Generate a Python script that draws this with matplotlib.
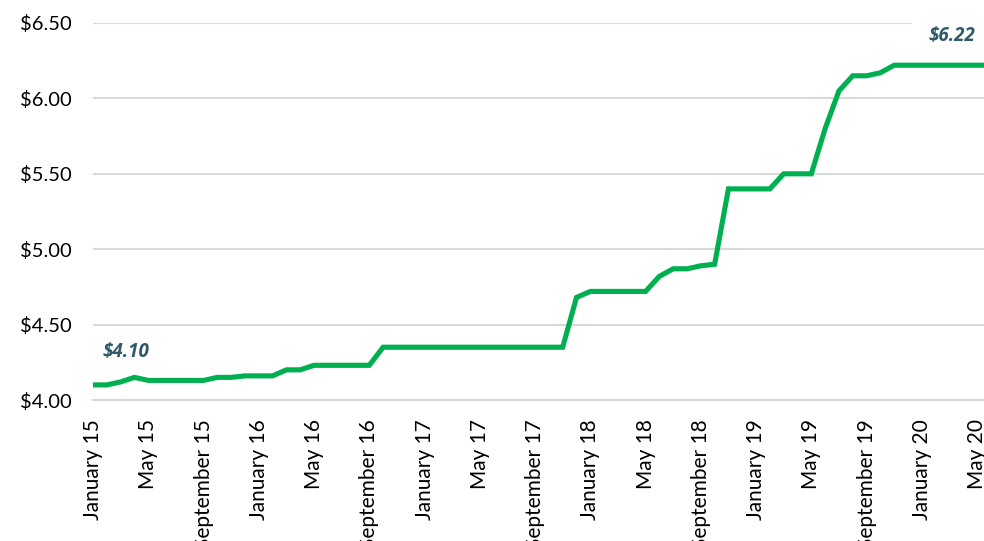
import matplotlib
matplotlib.use("Agg")
import matplotlib.pyplot as plt

plt.rcParams['font.family'] = ['Lato', 'DejaVu Sans']

month_names = ['January', 'February', 'March', 'April', 'May', 'June', 'July',
               'August', 'September', 'October', 'November', 'December']
months = [f"{month_names[i % 12]} {15 + i // 12}" for i in range(66)]

# monthly price, January 15 .. June 20 (last month runs off the right edge)
prices = [4.10, 4.10, 4.12, 4.15, 4.13, 4.13, 4.13, 4.13, 4.13, 4.15,
          4.15, 4.16, 4.16, 4.16, 4.20, 4.20, 4.23, 4.23, 4.23, 4.23,
          4.23] + [4.35] * 14 + [4.68] + [4.72] * 5 + \
         [4.82, 4.87, 4.87, 4.89, 4.90] + [5.40] * 4 + [5.50] * 3 + \
         [5.80, 6.05, 6.15, 6.15, 6.17] + [6.22] * 8

yticks = [4.0, 4.5, 5.0, 5.5, 6.0, 6.5]

fig = plt.figure(figsize=(9.84, 5.41), dpi=100)
ax = fig.add_axes([93 / 984, 141 / 541, 1 - 93 / 984, 377 / 541])

x = list(range(len(prices)))
ax.plot(x, prices, color='#00B050', linewidth=3.7, solid_joinstyle='miter', zorder=3)

ax.set_xlim(0, 64.5)
ax.set_ylim(4.0, 6.5)
ax.set_yticks(yticks)
ax.set_yticklabels([f"${v:.2f}" for v in yticks], fontsize=14.5)
ax.set_xticks(x[:65:4])
ax.set_xticklabels(months[:65:4], rotation=90, fontsize=15)
ax.tick_params(axis='both', length=0)
ax.tick_params(axis='y', pad=15)
ax.tick_params(axis='x', pad=14)

ax.grid(axis='y', color='#D9D9D9', linewidth=1.5)
ax.set_axisbelow(True)
for s in ['top', 'right', 'left']:
    ax.spines[s].set_visible(False)
ax.spines['bottom'].set_color('#D9D9D9')
ax.spines['bottom'].set_linewidth(1.5)

lab_font = ['Open Sans', 'DejaVu Sans']
ax.annotate(f"${prices[0]:.2f}", (0, prices[0]), xytext=(7, 24), textcoords='offset points',
            fontsize=13.5, fontweight='bold', fontstyle='italic', family=lab_font,
            color='#2E5A6B', ha='left', va='center')
# white box hides the top gridline behind the end label, line stays on top
ax.annotate(f"${prices[64]:.2f}", (64, prices[64]), xytext=(-18, 21), textcoords='offset points',
            fontsize=13.5, fontweight='bold', fontstyle='italic', family=lab_font,
            color='#2E5A6B', ha='center', va='center',
            bbox=dict(boxstyle='square,pad=0.9', fc='white', ec='none'), zorder=2)

fig.savefig('out.png', dpi=100)
